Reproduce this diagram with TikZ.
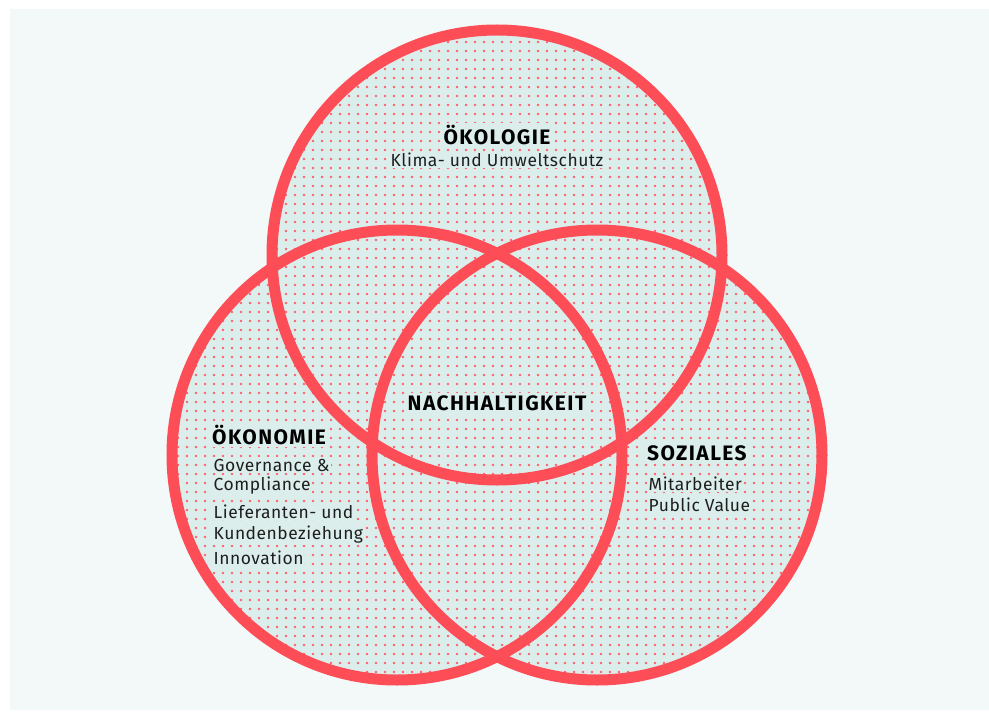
\documentclass[tikz,border=0pt]{standalone}
\usepackage{fontspec}
\setmainfont{Fira Sans}
\newfontfamily\headfont[LetterSpace=7]{Fira Sans Bold}
\newfontfamily\itemfont[LetterSpace=3]{Fira Sans}
\definecolor{panel}{HTML}{F3F8F8}
\definecolor{mint}{HTML}{DCEEEC}
\definecolor{ringred}{HTML}{FD4E58}
\definecolor{dotred}{HTML}{FF5F6A}
\definecolor{ink}{HTML}{1E1E1E}

\begin{document}
\begin{tikzpicture}[x=1bp,y=-1bp,
  ring/.style={draw=ringred,line width=11bp},
  head/.style={font=\headfont\fontsize{21}{24}\selectfont,text=black,fill=mint,inner sep=2bp},
  item/.style={font=\itemfont\fontsize{17.5}{20}\selectfont,text=ink,fill=mint,inner sep=1.5bp,anchor=west}]
  \useasboundingbox (0,0) rectangle (989,717);
  \fill[panel] (10,9) rectangle (989,710);
  % the three circles
  \coordinate (oeko) at (497,255);
  \coordinate (left) at (397,455);
  \coordinate (right) at (597,455);
  \fill[mint] (oeko) circle[radius=225bp] (left) circle[radius=225bp] (right) circle[radius=225bp];
  \begin{scope}
    \clip (oeko) circle[radius=225bp] (left) circle[radius=225bp] (right) circle[radius=225bp];
    \foreach \x in {169,178,...,826}
      \foreach \y in {33,42,...,684}
        \fill[dotred] (\x,\y) circle[radius=1.3bp];
  \end{scope}
  \draw[ring] (oeko) circle[radius=225bp];
  \draw[ring] (left) circle[radius=225bp];
  \draw[ring] (right) circle[radius=225bp];
  % labels
  \node[head] (oekologie) at (497,135) {ÖKOLOGIE};
  \node[item,anchor=center] (klima) at (497,160) {Klima- und Umweltschutz};
  \node[head] (nachhalt) at (497,403) {NACHHALTIGKEIT};
  \node[head,anchor=west] (oekonomie) at (210,435) {ÖKONOMIE};
  \node[item] (gov) at (212,465) {Governance \&};
  \node[item] (comp) at (212,486) {Compliance};
  \node[item] (lief) at (212,512) {Lieferanten- und};
  \node[item] (kunde) at (212,535) {Kundenbeziehung};
  \node[item] (innov) at (212,558) {Innovation};
  \node[head,anchor=west] (soziales) at (645,453) {SOZIALES};
  \node[item] (mitarb) at (647,484) {Mitarbeiter};
  \node[item] (public) at (647,505) {Public Value};
\end{tikzpicture}
\end{document}
